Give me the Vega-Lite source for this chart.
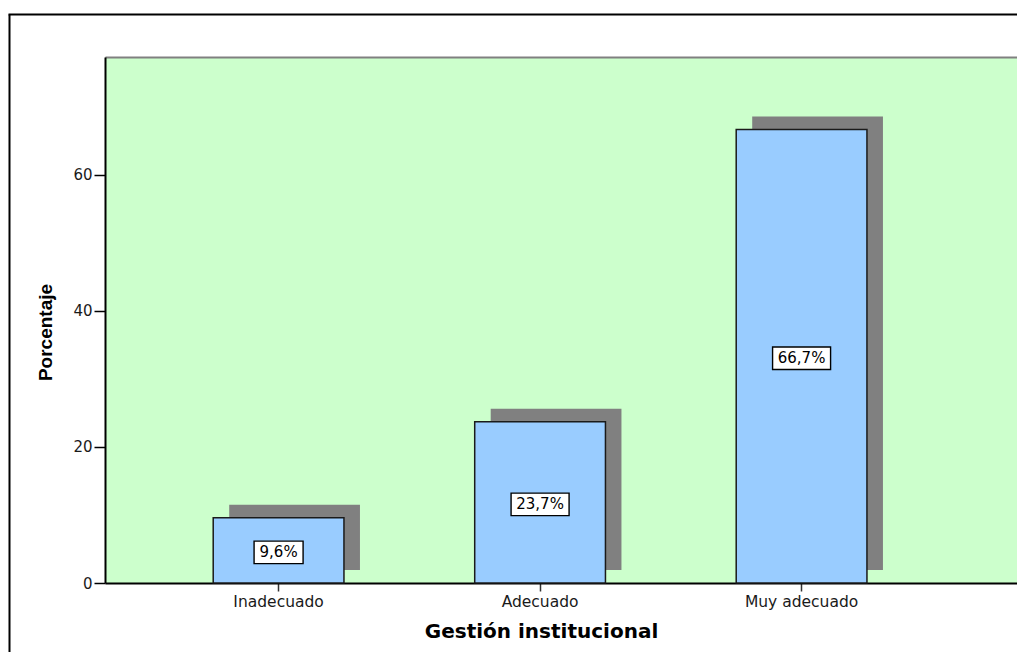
{
  "$schema": "https://vega.github.io/schema/vega-lite/v6.json",
  "width": 912,
  "height": 526,
  "autosize": {"type": "none"},
  "padding": {"left": 105, "top": 57, "right": 0, "bottom": 69},
  "background": "white",
  "config": {"view": {"fill": "#CCFFCC", "stroke": null}, "font": "DejaVu Sans"},
  "data": {"values": [
    {"category": "Inadecuado", "value": 9.6, "label": "9,6%"},
    {"category": "Adecuado", "value": 23.7, "label": "23,7%"},
    {"category": "Muy adecuado", "value": 66.7, "label": "66,7%"}
  ]},
  "layer": [
    {
      "layer": [
        {
          "mark": {"type": "bar", "color": "#808080", "xOffset": 16, "x2Offset": 16, "yOffset": -13, "y2Offset": -13},
          "encoding": {
            "x": {"field": "category", "type": "nominal", "sort": null,
              "scale": {"type": "band", "paddingInner": 0.5, "paddingOuter": 0.4938, "align": 0.419},
              "axis": {"orient": "bottom", "title": "Gestión institucional", "labelAngle": 0, "labelFont": "DejaVu Sans", "labelFontSize": 15.5, "labelColor": "#1a1a1a", "labelPadding": 3, "tickSize": 8, "tickColor": "#333333", "tickWidth": 1.5, "domainColor": "#000000", "domainWidth": 2, "titleFont": "DejaVu Sans", "titleFontSize": 20, "titleFontWeight": "bold", "titleColor": "#000000", "titleX": 436, "titleY": 54, "titleAlign": "center", "titleBaseline": "alphabetic", "grid": false}},
            "y": {"field": "value", "type": "quantitative",
              "scale": {"domain": [0, 77.35], "nice": false, "zero": true},
              "axis": {"orient": "left", "values": [0, 20, 40, 60], "title": "Porcentaje", "titleFont": "Liberation Sans", "titleFontSize": 19, "titleFontWeight": "bold", "titleColor": "#000000", "titleX": -60, "titleY": 275, "titleAngle": -90, "titleAlign": "center", "titleBaseline": "middle", "labelFont": "DejaVu Sans", "labelFontSize": 15, "labelColor": "#1a1a1a", "labelPadding": 2, "tickSize": 11, "tickColor": "#000000", "tickWidth": 1.5, "domainColor": "#000000", "domainWidth": 2, "grid": false}}
          }
        },
        {
          "mark": {"type": "bar", "color": "#99CCFF", "stroke": "#1a1a1a", "strokeWidth": 1.5},
          "encoding": {
            "x": {"field": "category", "type": "nominal", "sort": null,
              "scale": {"type": "band", "paddingInner": 0.5, "paddingOuter": 0.4938, "align": 0.419},
              "axis": {"orient": "top", "domainColor": "#808080", "domainWidth": 2, "labels": false, "ticks": false, "title": null, "grid": false}},
            "y": {"field": "value", "type": "quantitative", "axis": null}
          }
        },
        {
          "mark": {"type": "point", "filled": true, "fill": "white", "stroke": "#000000", "strokeWidth": 1.4, "opacity": 1, "size": 3364, "yOffset": 2},
          "encoding": {
            "x": {"field": "category", "type": "nominal", "sort": null,
              "scale": {"type": "band", "paddingInner": 0.5, "paddingOuter": 0.4938, "align": 0.419}, "axis": null},
            "y": {"field": "value", "type": "quantitative", "stack": "zero", "bandPosition": 0.5, "axis": null},
            "shape": {"field": "label", "type": "nominal",
              "scale": {"domain": ["9,6%", "23,7%", "66,7%"], "range": ["M-0.845,-0.388L0.845,-0.388L0.845,0.388L-0.845,0.388Z", "M-1,-0.388L1,-0.388L1,0.388L-1,0.388Z", "M-1,-0.388L1,-0.388L1,0.388L-1,0.388Z"]},
              "legend": null}
          }
        },
        {
          "mark": {"type": "text", "font": "DejaVu Sans", "fontSize": 15, "color": "#000000", "align": "center", "baseline": "middle", "yOffset": 2},
          "encoding": {
            "x": {"field": "category", "type": "nominal", "sort": null,
              "scale": {"type": "band", "paddingInner": 0.5, "paddingOuter": 0.4938, "align": 0.419}, "axis": null},
            "y": {"field": "value", "type": "quantitative", "stack": "zero", "bandPosition": 0.5, "axis": null},
            "text": {"field": "label", "type": "nominal"}
          }
        }
      ],
      "resolve": {"axis": {"x": "independent", "y": "independent"}}
    },
    {
      "mark": {"type": "point", "opacity": 0},
      "encoding": {
        "x": {"field": "category", "type": "nominal", "sort": null, "scale": {"range": [-97, 930]},
          "axis": {"orient": "top", "offset": 43, "domainColor": "#000000", "domainWidth": 2, "ticks": false, "labels": false, "title": null, "grid": false}},
        "y": {"field": "value", "type": "quantitative", "scale": {"range": [700, -43]},
          "axis": {"orient": "left", "offset": 96, "domainColor": "#000000", "domainWidth": 2, "ticks": false, "labels": false, "title": null, "grid": false}}
      }
    }
  ],
  "resolve": {"scale": {"x": "independent", "y": "independent"}, "axis": {"x": "independent", "y": "independent"}}
}
